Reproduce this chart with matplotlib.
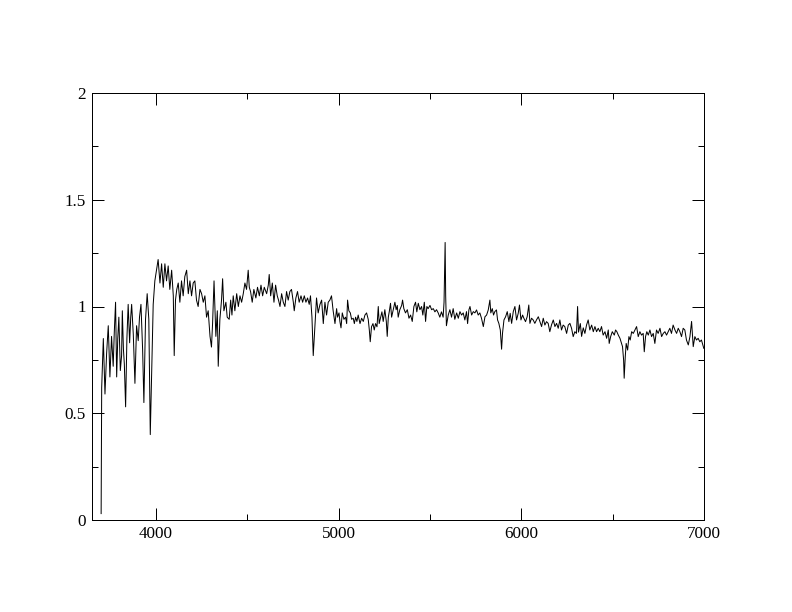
import matplotlib
matplotlib.use("Agg")
import matplotlib.pyplot as plt
from matplotlib.ticker import MultipleLocator, FuncFormatter

# spectrum, split in wavelength chunks
wl_blue = [3700, 3703, 3712, 3721, 3730, 3739, 3748, 3757, 3766, 3772,
           3779, 3785, 3791, 3797, 3805, 3812, 3816, 3822, 3827, 3834,
           3841, 3848, 3856, 3862, 3867, 3876, 3885, 3894, 3903, 3910,
           3918, 3927, 3934, 3943, 3952, 3961, 3969, 3976, 3985, 3994,
           4003, 4012, 4022, 4031, 4040, 4049, 4058, 4067, 4076, 4086,
           4095, 4100, 4107, 4114, 4122, 4131, 4140, 4149, 4158, 4168,
           4177, 4186, 4195, 4204, 4213, 4222, 4231, 4241, 4250, 4259,
           4268, 4277, 4286]
flux_blue = [0.03, 0.62, 0.85, 0.59, 0.78, 0.91, 0.67, 0.86, 0.72, 0.88,
             1.02, 0.67, 0.85, 0.95, 0.70, 0.77, 0.98, 0.80, 0.73, 0.53,
             0.85, 1.01, 0.83, 0.95, 1.01, 0.87, 0.64, 0.91, 0.84, 0.95,
             1.01, 0.80, 0.55, 0.94, 1.06, 0.94, 0.40, 0.67, 1.01, 1.12,
             1.17, 1.22, 1.11, 1.20, 1.09, 1.20, 1.12, 1.19, 1.08, 1.17,
             1.05, 0.77, 1.03, 1.08, 1.11, 1.02, 1.12, 1.05, 1.14, 1.17,
             1.06, 1.12, 1.05, 1.11, 1.12, 1.03, 1.00, 1.08, 1.06, 1.02,
             1.05, 0.95, 0.98]

wl_green = [4296, 4304, 4310, 4318, 4328, 4336, 4341, 4350, 4359, 4365,
            4372, 4383, 4390, 4401, 4409, 4416, 4423, 4432, 4442, 4451,
            4460, 4469, 4478, 4487, 4496, 4505, 4511, 4518, 4527, 4536,
            4547, 4556, 4566, 4575, 4584, 4593, 4606, 4615, 4620, 4628,
            4637, 4646, 4655, 4664, 4671, 4679, 4688, 4697, 4706, 4715,
            4724, 4733, 4742, 4752, 4757, 4766, 4775, 4784, 4794, 4803,
            4812, 4821, 4830, 4839, 4846, 4854, 4861, 4867, 4872, 4879,
            4888, 4898, 4907, 4916, 4925, 4934, 4943, 4952, 4961, 4970]
flux_green = [0.86, 0.81, 0.92, 1.12, 0.86, 0.98, 0.72, 0.94, 1.03, 1.13,
              0.98, 1.02, 0.95, 0.94, 1.03, 0.96, 1.05, 0.98, 1.06, 1.00,
              1.05, 1.02, 1.06, 1.11, 1.08, 1.17, 1.09, 1.07, 1.02, 1.08,
              1.04, 1.09, 1.05, 1.10, 1.05, 1.09, 1.06, 1.10, 1.15, 1.05,
              1.11, 1.02, 1.10, 1.05, 1.03, 1.00, 1.06, 1.02, 1.00, 1.07,
              1.03, 1.07, 1.08, 1.02, 0.98, 1.04, 1.07, 1.02, 1.05, 1.02,
              1.05, 1.02, 1.04, 1.01, 1.05, 0.95, 0.77, 0.86, 0.94, 1.04,
              0.97, 1.01, 1.03, 0.92, 1.02, 0.96, 1.02, 1.03, 1.05, 0.98]

wl_yellow = [4980, 4989, 4994, 5002, 5007, 5013, 5020, 5029, 5038, 5044,
             5049, 5056, 5064, 5071, 5080, 5086, 5093, 5100, 5107, 5117,
             5126, 5135, 5144, 5153, 5162, 5168, 5173, 5180, 5188, 5195,
             5202, 5210, 5217, 5222, 5230, 5237, 5244, 5253, 5261, 5266,
             5272, 5277, 5284, 5290, 5299, 5308, 5315, 5321, 5326, 5335,
             5345, 5350, 5357, 5366, 5376, 5385, 5394, 5403, 5412, 5421,
             5428, 5436, 5445, 5454, 5461, 5469, 5476, 5483, 5490, 5500,
             5509, 5518, 5527, 5536, 5545, 5554, 5563, 5572, 5577, 5580,
             5583, 5586, 5590, 5600, 5609, 5618, 5627, 5636]
flux_yellow = [0.92, 0.99, 0.95, 0.97, 0.93, 0.90, 0.97, 0.94, 0.95, 0.92,
               1.03, 0.98, 0.97, 0.94, 0.945, 0.92, 0.95, 0.93, 0.96, 0.92,
               0.945, 0.93, 0.96, 0.97, 0.94, 0.89, 0.835, 0.905, 0.92, 0.89,
               0.92, 0.905, 1.00, 0.92, 0.95, 0.975, 0.93, 0.985, 0.93, 0.86,
               0.95, 0.975, 1.015, 0.95, 0.985, 1.02, 0.985, 1.005, 0.95, 0.985,
               1.005, 1.03, 0.99, 0.97, 0.985, 0.945, 0.96, 0.93, 1.00, 1.02,
               0.975, 1.015, 0.985, 1.00, 0.96, 1.02, 0.93, 1.00, 0.99, 1.005,
               0.985, 0.99, 0.975, 0.985, 0.97, 0.95, 0.975, 0.95, 1.02, 1.17,
               1.30, 1.05, 0.91, 0.96, 0.985, 0.95, 0.99, 0.94]

wl_orange = [5646, 5655, 5664, 5673, 5682, 5691, 5700, 5706, 5713, 5719,
             5728, 5737, 5746, 5755, 5764, 5773, 5782, 5792, 5801, 5810,
             5819, 5828, 5833, 5841, 5848, 5855, 5864, 5870, 5877, 5885,
             5892, 5897, 5905, 5914, 5923, 5932, 5939, 5947, 5956, 5965,
             5974, 5983, 5990, 5998, 6007, 6014, 6023, 6032, 6041, 6047,
             6056, 6065, 6074, 6083, 6093, 6102, 6111, 6120, 6129, 6138,
             6147, 6156, 6165, 6175, 6184, 6193, 6202, 6211, 6220, 6229,
             6238, 6248, 6257, 6266, 6275, 6284, 6293, 6302, 6308, 6313]
flux_orange = [0.97, 0.945, 0.976, 0.96, 0.97, 0.937, 0.976, 0.92, 0.984, 1.00,
               0.96, 0.976, 0.97, 0.984, 0.96, 0.97, 0.945, 0.906, 0.952, 0.96,
               0.984, 1.03, 0.97, 0.99, 0.96, 0.976, 0.984, 0.937, 0.921, 0.89,
               0.80, 0.874, 0.937, 0.952, 0.976, 0.929, 0.968, 0.921, 0.976, 1.00,
               0.937, 0.968, 1.007, 0.937, 0.96, 0.945, 0.929, 0.952, 1.007, 0.921,
               0.945, 0.937, 0.921, 0.937, 0.952, 0.929, 0.906, 0.945, 0.913, 0.929,
               0.921, 0.882, 0.913, 0.937, 0.906, 0.921, 0.898, 0.937, 0.89, 0.913,
               0.906, 0.874, 0.913, 0.921, 0.898, 0.859, 0.882, 0.874, 1.00, 0.88]

wl_red = [6323, 6330, 6339, 6348, 6357, 6366, 6375, 6385, 6394, 6403,
          6412, 6421, 6430, 6439, 6448, 6458, 6467, 6476, 6481, 6489,
          6498, 6509, 6516, 6523, 6531, 6540, 6549, 6554, 6560, 6563,
          6569, 6574, 6582, 6589, 6596, 6604, 6613, 6622, 6631, 6640,
          6649, 6658, 6667, 6673, 6680, 6687, 6695, 6704, 6713, 6722,
          6731, 6740, 6749, 6759, 6768, 6777, 6786, 6795, 6804, 6813,
          6822, 6831, 6841, 6850, 6859, 6868, 6877, 6886, 6895, 6904,
          6914, 6923, 6932, 6941, 6950, 6959, 6968, 6977, 6986, 6996,
          6999]
flux_red = [0.92, 0.86, 0.90, 0.874, 0.913, 0.937, 0.89, 0.913, 0.882, 0.906,
            0.882, 0.898, 0.882, 0.906, 0.866, 0.882, 0.851, 0.89, 0.827, 0.859,
            0.882, 0.866, 0.89, 0.882, 0.866, 0.851, 0.827, 0.812, 0.749, 0.664,
            0.765, 0.827, 0.796, 0.859, 0.843, 0.882, 0.874, 0.89, 0.906, 0.859,
            0.882, 0.866, 0.874, 0.788, 0.859, 0.882, 0.866, 0.89, 0.859, 0.874,
            0.827, 0.89, 0.874, 0.898, 0.859, 0.874, 0.882, 0.866, 0.882, 0.898,
            0.874, 0.913, 0.89, 0.874, 0.898, 0.882, 0.859, 0.898, 0.89, 0.843,
            0.82, 0.859, 0.93, 0.812, 0.859, 0.843, 0.851, 0.835, 0.843, 0.812,
            0.804]

wavelength = wl_blue + wl_green + wl_yellow + wl_orange + wl_red
flux = flux_blue + flux_green + flux_yellow + flux_orange + flux_red
assert len(wavelength) == len(flux)

x_ticks = [4000, 5000, 6000, 7000]
y_ticks = [0, 0.5, 1, 1.5, 2]

plt.rcParams["font.family"] = ["Liberation Serif", "DejaVu Serif"]

fig = plt.figure(figsize=(11, 8.5), dpi=72)
ax = fig.add_axes([92 / 792, 92 / 612, 612 / 792, 427 / 612])

ax.plot(wavelength, flux, color="black", linewidth=1.0)

ax.set_xlim(3650, 7000)
ax.set_ylim(0, 2)
ax.set_xticks(x_ticks)
ax.set_yticks(y_ticks)
ax.xaxis.set_minor_locator(MultipleLocator(500))
ax.yaxis.set_minor_locator(MultipleLocator(0.25))
ax.yaxis.set_major_formatter(FuncFormatter(lambda v, p: "%g" % v))

ax.tick_params(which="both", direction="in", top=True, right=True,
               labelsize=17, width=1)
ax.tick_params(which="major", length=12, pad=6)
ax.tick_params(which="minor", length=6)
for s in ax.spines.values():
    s.set_linewidth(1)

fig.savefig("out.png", dpi=72)
